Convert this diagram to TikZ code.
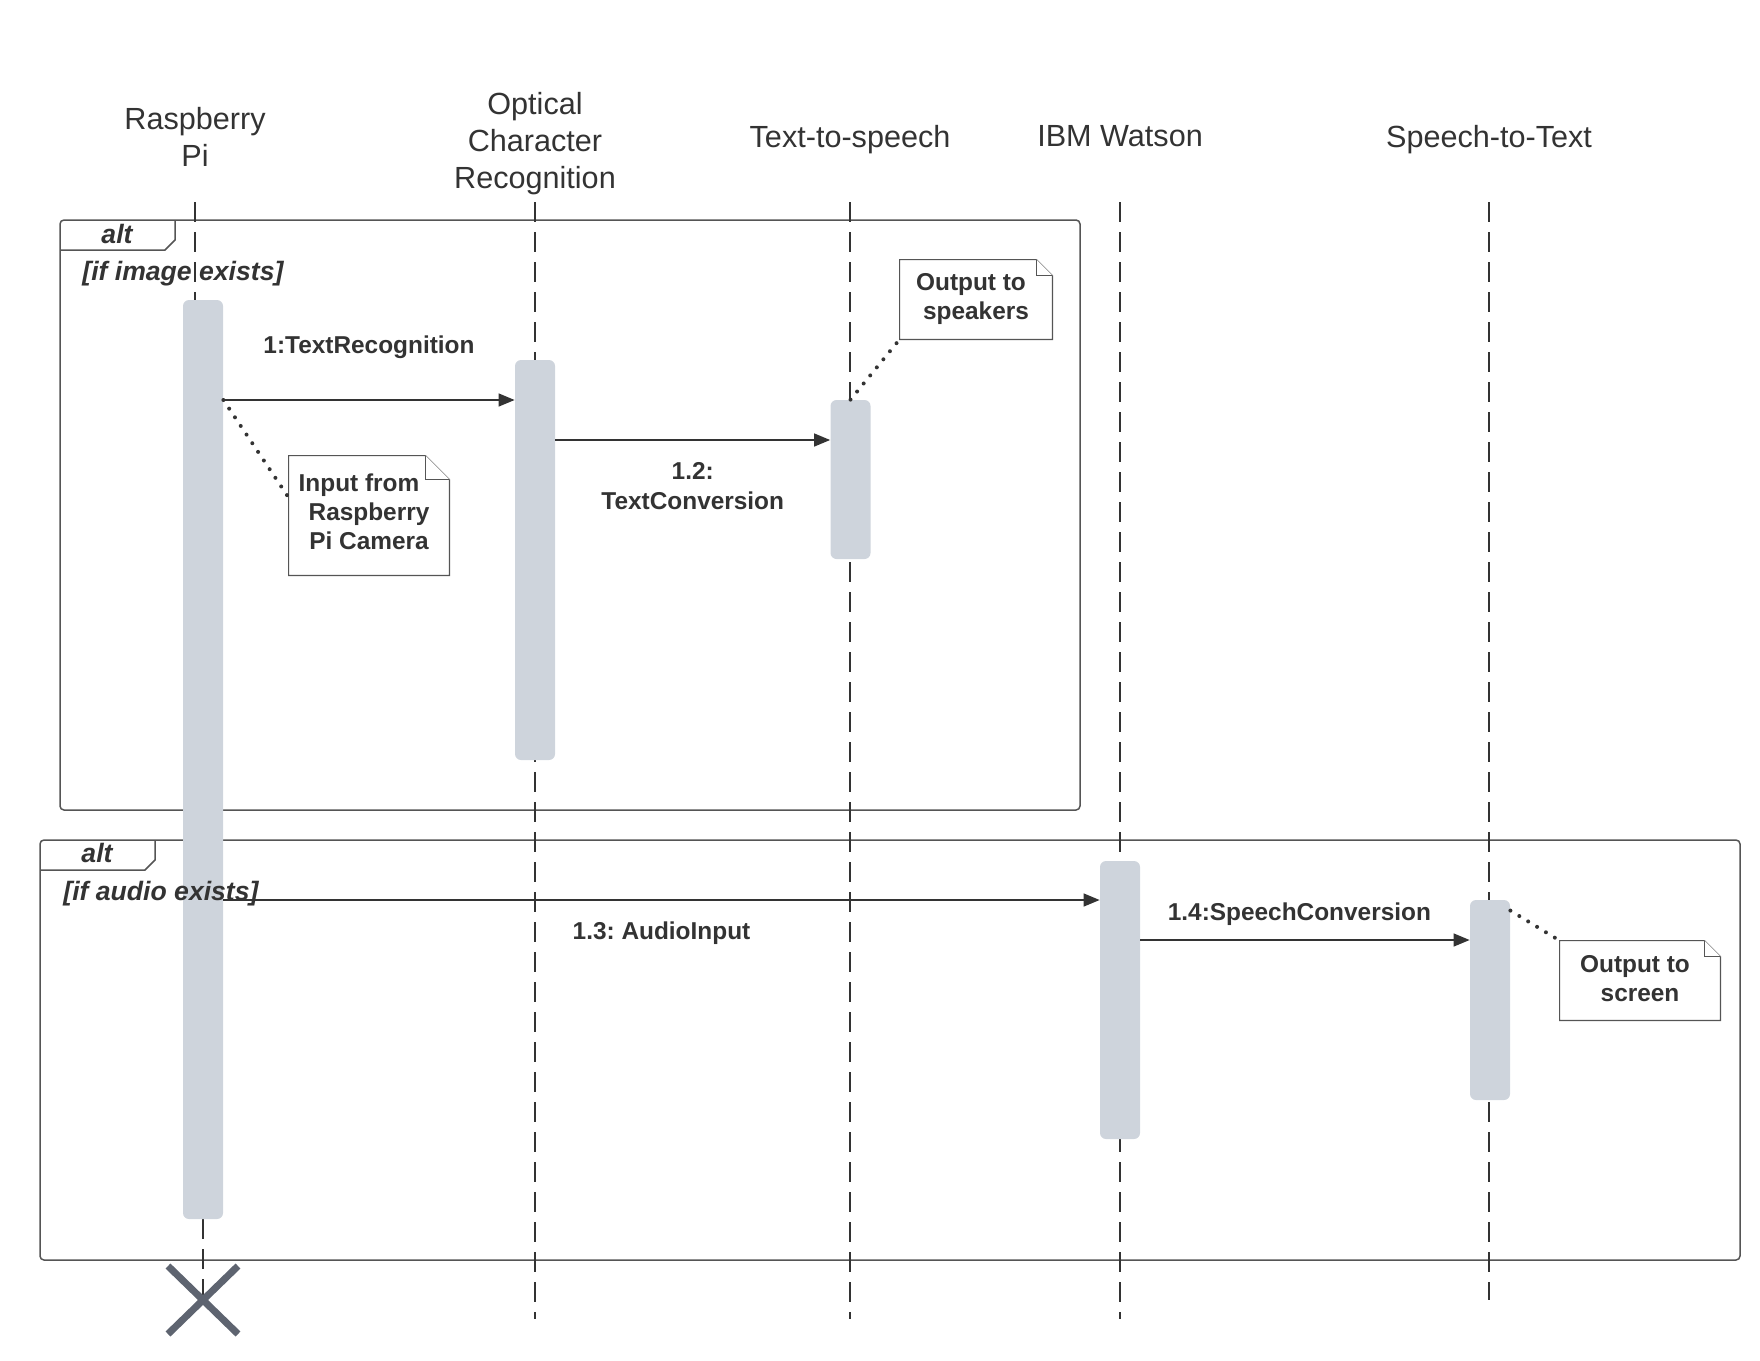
\documentclass[tikz,border=0pt]{standalone}
\usepackage{fontspec}
\setmainfont{Liberation Sans}
\usetikzlibrary{arrows.meta,calc}

\begin{document}
\begin{tikzpicture}[x=0.5pt,y=-0.5pt,
   head/.style={text=txt,font=\fontsize{15.3}{18.5}\selectfont,align=center},
   lifeline/.style={draw=linec,line width=0.6pt,dash pattern=on 10pt off 5pt},
   actbar/.style={fill=barfill,rounded corners=3pt,minimum width=20pt,inner sep=0pt},
   frame/.style={draw=framec,line width=0.75pt},
   msg/.style={draw=linec,line width=0.7pt,-{Triangle[length=8pt,width=6.5pt]}},
   lbl/.style={text=txt,font=\fontsize{12.2}{15}\selectfont\bfseries\frenchspacing,align=center},
   guard/.style={text=txt,font=\fontsize{13.3}{16}\selectfont\bfseries\itshape,inner sep=0pt},
   notetext/.style={text=txt,font=\fontsize{12.2}{14.5}\selectfont\bfseries,align=center,inner sep=0pt},
   notebox/.style={draw=framec,line width=0.6pt,fill=white},
   dots/.style={draw=linec,line width=2pt,line cap=round,dash pattern=on 0pt off 5.2pt}]
   \definecolor{txt}{HTML}{333333}
   \definecolor{linec}{HTML}{333333}
   \definecolor{framec}{HTML}{555555}
   \definecolor{barfill}{HTML}{CED4DC}
   \definecolor{xcol}{HTML}{5E6470}
   \useasboundingbox (0,0) rectangle (1760,1360);
   % lifeline heads
   \node [head] (rpi) at (195,136.5) {Raspberry\\Pi};
   \node [head] (ocr) at (535,143.5) {Optical\\Character\\Recognition};
   \node [head] (tts) at (850,139.5) {Text-to-speech};
   \node [head] (ibm) at (1120,136.5) {IBM Watson};
   \node [head] (stt) at (1489,139.5) {Speech-to-Text};
   % alt frames
   \draw [frame,rounded corners=2pt] (60,220) rectangle (1080,810);
   \draw [frame] (60,250) -- (165,250) -- (175,240) -- (175,220);
   \node [guard] (alt1) at (117,234) {alt};
   \draw [frame,rounded corners=2pt] (40,840) rectangle (1740,1260);
   \draw [frame] (40,870) -- (145,870) -- (155,860) -- (155,840);
   \node [guard] (alt2) at (97,853) {alt};
   % lifelines
   \coordinate (top) at (0,202);
   \coordinate (bot) at (0,1319);
   \coordinate (rpiend) at (203,1300);
   \draw [lifeline] (rpi |- top) -- (195,300);
   \draw [lifeline] (203,1219) -- (rpiend);
   \draw [lifeline] (ocr |- top) -- (ocr |- bot);
   \draw [lifeline] (tts |- top) -- (tts |- bot);
   \draw [lifeline] (ibm |- top) -- (ibm |- bot);
   \draw [lifeline] (stt |- top) -- (1489,1300);
   % activation bars
   \node [actbar,minimum height=459.5pt] (rpibar) at (203,759.5) {};
   \node [actbar,minimum height=200pt] (ocrbar) at (535,560) {};
   \node [actbar,minimum height=79.5pt] (ttsbar) at (850.5,479.5) {};
   \node [actbar,minimum height=139pt] (ibmbar) at (1120,1000) {};
   \node [actbar,minimum height=100pt] (sttbar) at (1490,1000) {};
   % guards
   \node [guard,anchor=west] (g1) at (82,273.5) {[if image exists]};
   \node [guard,anchor=west] (g2) at (63,893.5) {[if audio exists]};
   % messages
   \coordinate (m1) at (0,400);
   \coordinate (m2) at (0,440);
   \coordinate (m3) at (0,900);
   \coordinate (m4) at (0,940);
   \draw [msg] (rpibar.east |- m1) -- (ocrbar.west |- m1)
      node [lbl,midway,yshift=26.5pt] (l1) {1:TextRecognition};
   \draw [msg] (ocrbar.east |- m2) -- (ttsbar.west |- m2)
      node [lbl,midway,yshift=-23pt] (l2) {1.2:\\TextConversion};
   \draw [msg] (rpibar.east |- m3) -- (ibmbar.west |- m3)
      node [lbl,midway,yshift=-16.7pt] (l3) {1.3: AudioInput};
   \draw [msg] (ibmbar.east |- m4) -- (sttbar.west |- m4)
      node [lbl,midway,yshift=12.8pt,xshift=-2.8pt] (l4) {1.4:SpeechConversion};
   % notes
   \node [notetext,minimum width=80pt,minimum height=59.5pt] (camnote) at (369,515.5) {};
   \node [notetext,minimum width=76pt,minimum height=39.5pt] (spknote) at (976,299.5) {};
   \node [notetext,minimum width=80pt,minimum height=39.5pt] (scrnote) at (1640,980.5) {};
   \draw [notebox] (camnote.south west) -- (camnote.north west) -- ([xshift=-12pt]camnote.north east)
      -- ([yshift=-12pt]camnote.north east) -- (camnote.south east) -- cycle;
   \draw [notebox] ([xshift=-12pt]camnote.north east) |- ([yshift=-12pt]camnote.north east);
   \draw [notebox] (spknote.south west) -- (spknote.north west) -- ([xshift=-8pt]spknote.north east)
      -- ([yshift=-8pt]spknote.north east) -- (spknote.south east) -- cycle;
   \draw [notebox] ([xshift=-8pt]spknote.north east) |- ([yshift=-8pt]spknote.north east);
   \draw [notebox] (scrnote.south west) -- (scrnote.north west) -- ([xshift=-8pt]scrnote.north east)
      -- ([yshift=-8pt]scrnote.north east) -- (scrnote.south east) -- cycle;
   \draw [notebox] ([xshift=-8pt]scrnote.north east) |- ([yshift=-8pt]scrnote.north east);
   \node [notetext] (camtext) at ([yshift=1.7pt]camnote.center) {Input from\hspace*{10pt}\\Raspberry\\Pi Camera};
   \node [notetext] (spktext) at (spknote.center) {Output to\hspace*{5pt}\\speakers};
   \node [notetext] (scrtext) at ([yshift=1.1pt]scrnote.center) {Output to\hspace*{5pt}\\screen};
   \draw [dots] (rpibar.east |- m1) -- ($(camnote.north west)!0.35!(camnote.south west)$);
   \draw [dots] (ttsbar.north) -- (spknote.south west);
   \draw [dots] ([yshift=-5.5pt]sttbar.north east) -- (scrnote.north west);
   % destruction
   \draw [xcol,line width=3.5pt] (rpiend) ++(-35,-34) -- ++(70,68) (rpiend) ++(-35,34) -- ++(70,-68);
\end{tikzpicture}
\end{document}
